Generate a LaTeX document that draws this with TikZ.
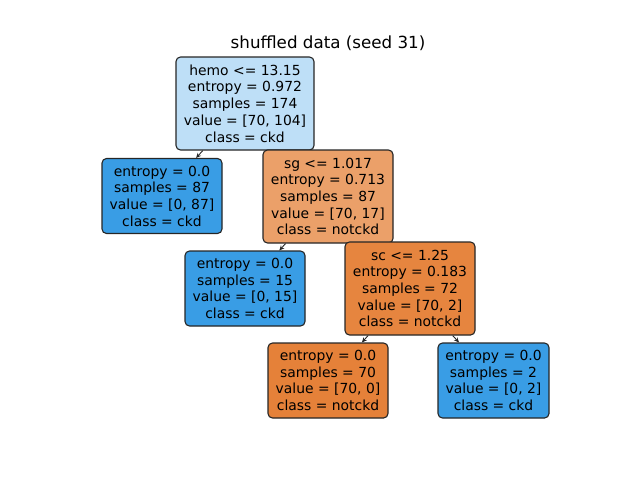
\documentclass[tikz,border=0pt]{standalone}
\usepackage{fontspec}
\setmainfont{DejaVu Sans}
\usetikzlibrary{arrows.meta,backgrounds}

\definecolor{ckdfull}{RGB}{57,157,229}
\definecolor{ckdpale}{RGB}{190,223,247}
\definecolor{notckdmid}{RGB}{235,160,105}
\definecolor{notckddeep}{RGB}{230,133,63}
\definecolor{notckdfull}{RGB}{229,129,57}

\begin{document}
\begin{tikzpicture}[x=1pt,y=-1pt,
    treebox/.style={draw=black!85, line width=1.1pt, rounded corners=4.5pt,
        align=center, inner sep=2pt, font=\fontsize{13.9}{16.7}\selectfont},
    split/.style={treebox, minimum height=93pt},
    leaf/.style={treebox, minimum height=75pt}]
                        \useasboundingbox (0,0) rectangle (640,480);
                        \node [font=\fontsize{16.7}{20}\selectfont] (title) at (328,43) {shuffled data (seed 31)};

                        \node [split, fill=ckdpale, minimum width=138pt] (q0) at (245,103.5)
                            {hemo <= 13.15\\entropy = 0.972\\samples = 174\\value = [70, 104]\\class = ckd};
                        \node [leaf, fill=ckdfull, minimum width=120pt] (q1) at (162,196)
                            {entropy = 0.0\\samples = 87\\value = [0, 87]\\class = ckd};
                        \node [split, fill=notckdmid, minimum width=130pt] (q2) at (328,196.5)
                            {sg <= 1.017\\entropy = 0.713\\samples = 87\\value = [70, 17]\\class = notckd};
                        \node [leaf, fill=ckdfull, minimum width=120pt] (q3) at (245,288.5)
                            {entropy = 0.0\\samples = 15\\value = [0, 15]\\class = ckd};
                        \node [split, fill=notckddeep, minimum width=130pt] (q4) at (410,288.5)
                            {sc <= 1.25\\entropy = 0.183\\samples = 72\\value = [70, 2]\\class = notckd};
                        \node [leaf, fill=notckdfull, minimum width=120pt] (q5) at (328,380.5)
                            {entropy = 0.0\\samples = 70\\value = [70, 0]\\class = notckd};
                        \node [leaf, fill=ckdfull, minimum width=111pt] (q6) at (493.5,380.5)
                            {entropy = 0.0\\samples = 2\\value = [0, 2]\\class = ckd};

                        \begin{scope}[on background layer]
                        \path[-{Stealth[length=5pt,width=4.5pt]}, draw=black!85, line width=0.9pt]
                        (q0) edge (q1)
                        (q0) edge (q2)
                        (q2) edge (q3)
                        (q2) edge (q4)
                        (q4) edge (q5)
                        (q4) edge (q6);
                        \end{scope}
                    \end{tikzpicture}
\end{document}
